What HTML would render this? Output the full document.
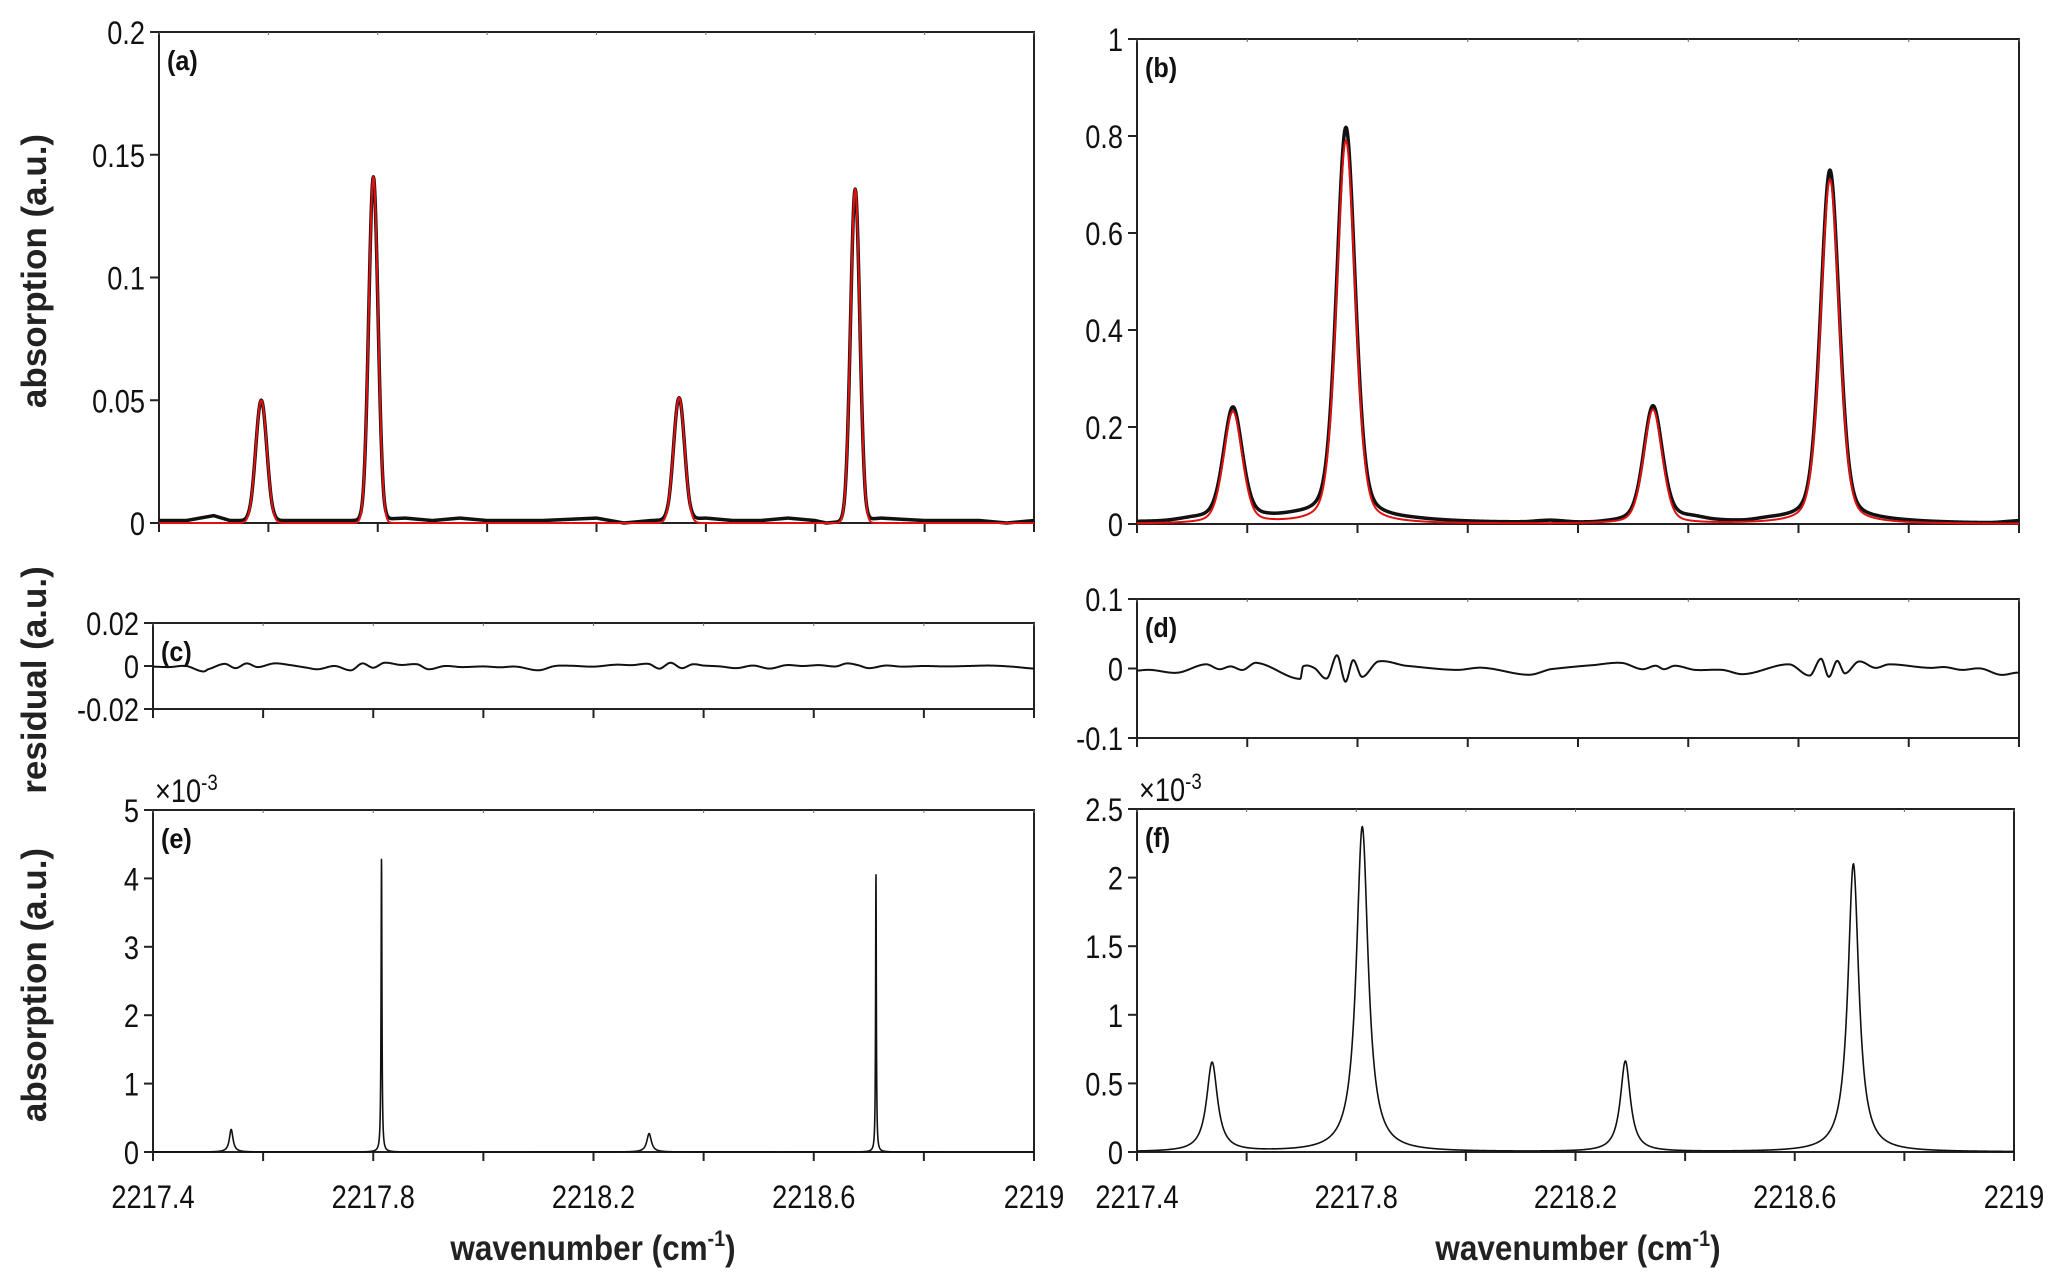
<!DOCTYPE html>
<html><head><meta charset="utf-8"><style>
html,body{margin:0;padding:0;background:#fff;}
svg{display:block;font-family:"Liberation Sans",Arial,sans-serif;}
.tk{font-size:32px;fill:#111;}
.lab{font-size:35px;font-weight:bold;fill:#222;}
.pl{font-size:28px;font-weight:bold;fill:#111;}
</style></head><body>
<svg id="fig" width="2067" height="1287" viewBox="0 0 2067 1287" xmlns="http://www.w3.org/2000/svg"></svg>
<script>
// ---- data ----
const xTicks = [2217.4, 2217.6, 2217.8, 2218.0, 2218.2, 2218.4, 2218.6, 2218.8, 2219.0];
const xTickLabels = ["2217.4","","2217.8","","2218.2","","2218.6","","2219"];
// panel (a) peaks
const aCenters = [2217.587, 2217.792, 2218.351, 2218.673];
const aHeights = [0.050, 0.141, 0.051, 0.136];
const aWidths = [0.024, 0.020, 0.024, 0.020];
const aBaseX = [2217.4,2217.45,2217.5,2217.53,2217.56,2217.65,2217.7,2217.75,2217.85,2217.9,2217.95,2218.0,2218.1,2218.2,2218.25,2218.3,2218.4,2218.45,2218.5,2218.55,2218.6,2218.62,2218.72,2218.8,2218.9,2218.95,2219.0];
const aBaseY = [0.001,0.001,0.003,0.001,0.001,0.001,0.001,0.001,0.002,0.001,0.002,0.001,0.001,0.002,0.000,0.001,0.002,0.001,0.001,0.002,0.001,0.000,0.002,0.001,0.001,0.000,0.001];
// panel (b) peaks
const bCenters = [2217.574, 2217.779, 2218.336, 2218.657];
const bHeights = [0.230, 0.790, 0.235, 0.710];
const bDataPeaks = [0.228, 0.805, 0.234, 0.722];
const bWidths = [0.040, 0.040, 0.040, 0.040];
const bBaseX = [2217.4,2217.45,2217.5,2217.65,2217.7,2217.9,2218.0,2218.1,2218.15,2218.2,2218.25,2218.4,2218.45,2218.5,2218.55,2218.75,2218.85,2218.95,2219.0];
const bBaseY = [0.004,0.005,0.010,0.012,0.014,0.008,0.004,0.003,0.006,0.002,0.003,0.012,0.006,0.004,0.008,0.006,0.003,0.002,0.006];
// residual (c)
const cX = [2217.4,2217.43,2217.46,2217.49,2217.5,2217.53,2217.55,2217.57,2217.59,2217.62,2217.65,2217.68,2217.7,2217.73,2217.76,2217.78,2217.8,2217.82,2217.85,2217.88,2217.9,2217.93,2217.96,2218.0,2218.03,2218.06,2218.1,2218.13,2218.16,2218.2,2218.24,2218.27,2218.3,2218.32,2218.34,2218.36,2218.38,2218.4,2218.43,2218.46,2218.49,2218.52,2218.55,2218.58,2218.61,2218.64,2218.66,2218.68,2218.7,2218.73,2218.76,2218.8,2218.84,2218.88,2218.92,2218.96,2219.0];
const cY = [-0.0003,-0.0005,0.0000,-0.0025,-0.0015,0.0010,-0.0010,0.0012,-0.0005,0.0012,0.0004,-0.0008,-0.0015,0.0000,-0.0020,0.0012,-0.0008,0.0015,0.0005,0.0008,-0.0015,0.0000,-0.0005,-0.0002,-0.0006,-0.0003,-0.0020,0.0000,0.0001,-0.0003,0.0006,0.0004,0.0010,-0.0012,0.0015,-0.0010,0.0008,0.0002,-0.0002,-0.0010,0.0002,-0.0012,0.0004,0.0000,0.0004,-0.0002,0.0012,0.0004,-0.0010,0.0002,-0.0003,0.0000,-0.0002,0.0000,0.0002,-0.0003,-0.0012];
// residual (d)
const dX = [2217.4,2217.424,2217.474,2217.524,2217.549,2217.570,2217.592,2217.618,2217.696,2217.701,2217.721,2217.745,2217.763,2217.778,2217.792,2217.808,2217.837,2217.887,2217.978,2218.028,2218.110,2218.150,2218.230,2218.280,2218.316,2218.341,2218.356,2218.376,2218.412,2218.462,2218.502,2218.583,2218.621,2218.641,2218.655,2218.670,2218.684,2218.709,2218.739,2218.765,2218.836,2218.866,2218.896,2218.931,2218.966,2218.996];
const dY = [-0.003,-0.002,-0.006,0.006,-0.001,0.003,-0.002,0.008,-0.015,0.003,0.001,-0.014,0.019,-0.019,0.012,-0.012,0.010,0.004,-0.002,0.001,-0.009,-0.001,0.005,0.008,-0.001,0.004,-0.001,0.004,-0.002,-0.002,-0.008,0.006,-0.010,0.014,-0.012,0.011,-0.007,0.010,0.001,0.006,0.001,0.002,-0.002,0.000,-0.009,-0.006];
// panel (e) peaks (x1e-3)
const eCenters = [2217.542, 2217.815, 2218.301, 2218.713];
const eHeights = [0.33, 4.30, 0.27, 4.08];
const eWidths = [0.008, 0.0018, 0.010, 0.0016];
// panel (f) peaks (x1e-3)
const fCenters = [2217.537, 2217.811, 2218.291, 2218.707];
const fHeights = [0.65, 2.37, 0.66, 2.10];
const fWidths = [0.024, 0.026, 0.022, 0.024];

const aYTicks=[0,0.05,0.1,0.15,0.2], aYLabels=["0","0.05","0.1","0.15","0.2"];
const bYTicks=[0,0.2,0.4,0.6,0.8,1], bYLabels=["0","0.2","0.4","0.6","0.8","1"];
const cYTicks=[-0.02,0,0.02], cYLabels=["-0.02","0","0.02"];
const dYTicks=[-0.1,0,0.1], dYLabels=["-0.1","0","0.1"];
const eYTicks=[0,1,2,3,4,5], eYLabels=["0","1","2","3","4","5"];
const fYTicks=[0,0.5,1,1.5,2,2.5], fYLabels=["0","0.5","1","1.5","2","2.5"];

// ---- drawing ----
const NS="http://www.w3.org/2000/svg";
const svg=document.getElementById('fig');
function mk(tag,attrs,parent){const e=document.createElementNS(NS,tag);for(const k in attrs)e.setAttribute(k,attrs[k]);(parent||svg).appendChild(e);return e;}
function gauss(x,c,h,w){const s=w/2.3548;return h*Math.exp(-0.5*((x-c)/s)**2);}
function lor(x,c,h,w){const g=w/2;return h*g*g/((x-c)**2+g*g);}
function interp(xs,ys,x){if(x<=xs[0])return ys[0];for(let i=1;i<xs.length;i++){if(x<=xs[i]){const t=(x-xs[i-1])/(xs[i]-xs[i-1]);return ys[i-1]+t*(ys[i]-ys[i-1]);}}return ys[ys.length-1];}
function smooth(xs,ys,x){
  if(x<=xs[0])return ys[0];
  const n=xs.length;
  for(let i=1;i<n;i++){if(x<=xs[i]){
    const t=(x-xs[i-1])/(xs[i]-xs[i-1]);
    const p0=ys[Math.max(0,i-2)],p1=ys[i-1],p2=ys[i],p3=ys[Math.min(n-1,i+1)];
    const t2=t*t,t3=t2*t;
    return 0.5*((2*p1)+(-p0+p2)*t+(2*p0-5*p1+4*p2-p3)*t2+(-p0+3*p1-3*p2+p3)*t3);
  }}
  return ys[n-1];
}
function sumPeaks(x,cs,hs,ws,fn){let s=0;for(let i=0;i<cs.length;i++)s+=fn(x,cs[i],hs[i],ws[i]);return s;}
function voigt(x,c,h,w){return 0.7*gauss(x,c,h,w)+0.3*lor(x,c,h,w);}

function txt(parent,x,y,anchor,cls,str,sx){
  const t=mk('text',{x:0,y:0,'text-anchor':anchor,class:cls,transform:`translate(${x} ${y}) scale(${sx} 1)`},parent);
  t.textContent=str;
  return t;
}

function panel(p){
  const g=mk('g',{});
  
  
  const sx=v=>p.x0+(v-2217.4)/1.6*(p.x1-p.x0);
  const sy=v=>p.y1-(v-p.ymin)/(p.ymax-p.ymin)*(p.y1-p.y0);
  const frame=mk('rect',{x:p.x0,y:p.y0,width:p.x1-p.x0,height:p.y1-p.y0,fill:'none',stroke:'#222','stroke-width':2},g);
  
  
  xTicks.forEach((t,i)=>{
    const X=sx(t);
    const tk=mk('line',{x1:X,x2:X,y1:p.y1,y2:p.y1+9,stroke:'#222','stroke-width':2},g);
    
    
    mk('line',{x1:X,x2:X,y1:p.y0,y2:p.y0+3,stroke:'#666','stroke-width':1},g);
    if(p.xlabels&&xTickLabels[i]){
      const tx=txt(g,X,p.y1+56,'middle','tk',xTickLabels[i],0.85);
      tx.setAttribute('font-size','36');
      
      
    }
  });
  p.yt.forEach((t,i)=>{
    const Y=sy(t);
    const tk=mk('line',{x1:p.x0-9,x2:p.x0,y1:Y,y2:Y,stroke:'#222','stroke-width':2},g);
    
    
    const tx=txt(g,p.x0-14,Y+12,'end','tk',p.yl[i],0.85);
    
    
  });
  const lb=txt(g,p.x0+8,p.y0+38,'start','pl',p.label,0.9);
  
  
  if(p.exp){
    const ex=mk('text',{x:0,y:0,class:'tk','font-size':'28',transform:`translate(${p.x0+2} ${p.y0-8}) scale(0.85 1)`},g);
    ex.innerHTML='×10<tspan dy="-12" font-size="22">-3</tspan>';
    
    
  }
  p.series.forEach(s=>{
    let d='';
    const N=s.n||1600;
    for(let i=0;i<=N;i++){const x=2217.4+1.6*i/N;d+=(i?'L':'M')+sx(x).toFixed(2)+','+sy(s.f(x)).toFixed(2);}
    const path=mk('path',{d:d,fill:'none',stroke:s.color,'stroke-width':s.w,'stroke-linejoin':'round'},g);
    
    
  });
  return g;
}

panel({name:'panel-a',label:'(a)',x0:159,x1:1034,y0:32,y1:523,ymin:0,ymax:0.2,yt:aYTicks,yl:aYLabels,series:[
  {name:'measured-data-a',color:'#111',w:3.5,f:x=>sumPeaks(x,aCenters,aHeights,aWidths,gauss)+interp(aBaseX,aBaseY,x)*(1-Math.min(1,sumPeaks(x,aCenters,aHeights,aWidths,gauss)/0.01))},
  {name:'fit-line-a',color:'#e01010',w:2,f:x=>sumPeaks(x,aCenters,aHeights,aWidths,gauss)}]});
panel({name:'panel-b',label:'(b)',x0:1137,x1:2019,y0:39,y1:524,ymin:0,ymax:1,yt:bYTicks,yl:bYLabels,series:[
  {name:'measured-data-b',color:'#111',w:3.5,f:x=>sumPeaks(x,bCenters,bDataPeaks,bWidths,voigt)+smooth(bBaseX,bBaseY,x)},
  {name:'fit-line-b',color:'#e01010',w:2,f:x=>sumPeaks(x,bCenters,bHeights,bWidths,voigt)}]});
panel({name:'panel-c',label:'(c)',x0:153,x1:1034,y0:623,y1:709,ymin:-0.02,ymax:0.02,yt:cYTicks,yl:cYLabels,series:[
  {name:'residual-c',color:'#111',w:2,n:1600,f:x=>smooth(cX,cY,x)}]});
panel({name:'panel-d',label:'(d)',x0:1137,x1:2019,y0:599,y1:738,ymin:-0.1,ymax:0.1,yt:dYTicks,yl:dYLabels,series:[
  {name:'residual-d',color:'#111',w:2,n:2000,f:x=>smooth(dX,dY,x)}]});
panel({name:'panel-e',label:'(e)',x0:153,x1:1034,y0:810,y1:1152,ymin:0,ymax:5,yt:eYTicks,yl:eYLabels,xlabels:true,exp:true,series:[
  {name:'simulated-spectrum-e',color:'#111',w:1.6,n:6000,f:x=>sumPeaks(x,eCenters,eHeights,eWidths,lor)}]});
panel({name:'panel-f',label:'(f)',x0:1137,x1:2014,y0:809,y1:1152,ymin:0,ymax:2.5,yt:fYTicks,yl:fYLabels,xlabels:true,exp:true,series:[
  {name:'simulated-spectrum-f',color:'#111',w:1.6,n:2000,f:x=>sumPeaks(x,fCenters,fHeights,fWidths,lor)}]});

function vlabel(str,x,y,name){
  const t=mk('text',{x:x,y:y,'text-anchor':'middle',class:'lab',transform:`rotate(-90 ${x} ${y})`});
  t.textContent=str;
  
  
}
vlabel('absorption (a.u.)',46,271,'y-axis-title-top');
vlabel('residual (a.u.)',46,680,'y-axis-title-residual');
vlabel('absorption (a.u.)',46,985,'y-axis-title-bottom');
function xlabel(x,name){
  const t=mk('text',{x:0,y:0,'text-anchor':'middle',class:'lab',transform:`translate(${x} 1260) scale(0.9 1)`});
  t.innerHTML='wavenumber (cm<tspan dy="-14" font-size="22">-1</tspan><tspan dy="14">)</tspan>';
  
  
}
xlabel(593,'x-axis-title-left');
xlabel(1578,'x-axis-title-right');
</script>
</body></html>
